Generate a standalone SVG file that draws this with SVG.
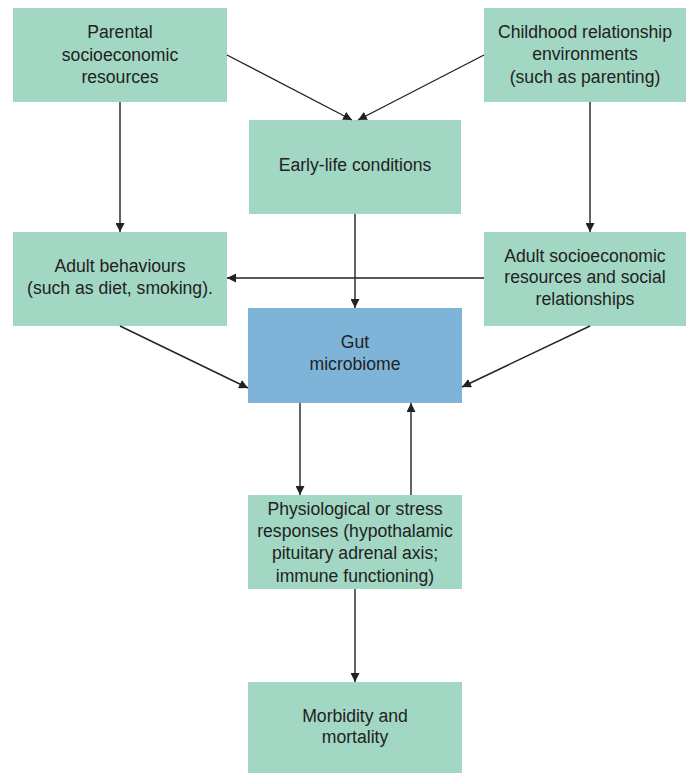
<svg xmlns="http://www.w3.org/2000/svg" width="687" height="773" viewBox="0 0 687 773">
<style>
.box{fill:#a1d7c3}
.blue{fill:#7eb4d8}
text{font-family:"Liberation Sans",Arial,sans-serif;font-size:17.6px;fill:#222;text-anchor:middle}
.c line{stroke:#222;stroke-width:1.4;marker-end:url(#ah)}
</style>
<defs>
<marker id="ah" viewBox="0 0 10 10" refX="10" refY="5" markerWidth="9" markerHeight="9" markerUnits="userSpaceOnUse" orient="auto">
<path d="M0,0 L10,5 L0,10 z" fill="#222"/>
</marker>
</defs>
<rect width="687" height="773" fill="#fff"/>
<g id="parental"><rect class="box" x="13" y="8" width="214" height="94"/>
<text x="120" y="38">Parental</text><text x="120" y="61">socioeconomic</text><text x="120" y="83">resources</text></g>
<g id="childhood"><rect class="box" x="484" y="8" width="202" height="94"/>
<text x="585" y="38">Childhood relationship</text><text x="585" y="60">environments</text><text x="585" y="83">(such as parenting)</text></g>
<g id="early"><rect class="box" x="249" y="120" width="212" height="94"/>
<text x="355" y="171">Early-life conditions</text></g>
<g id="adultbeh"><rect class="box" x="13" y="232" width="214" height="94"/>
<text x="120" y="272">Adult behaviours</text><text x="120" y="294">(such as diet, smoking).</text></g>
<g id="adultsoc"><rect class="box" x="484" y="232" width="202" height="94"/>
<text x="585" y="262">Adult socioeconomic</text><text x="585" y="283">resources and social</text><text x="585" y="305">relationships</text></g>
<g id="gut"><rect class="blue" x="248" y="308" width="214" height="95"/>
<text x="355" y="348">Gut</text><text x="355" y="370">microbiome</text></g>
<g id="physio"><rect class="box" x="248" y="495" width="214" height="94"/>
<text x="355" y="515">Physiological or stress</text><text x="355" y="537">responses (hypothalamic</text><text x="355" y="559">pituitary adrenal axis;</text><text x="355" y="582">immune functioning)</text></g>
<g id="morbidity"><rect class="box" x="248" y="682" width="214" height="91"/>
<text x="355" y="722">Morbidity and</text><text x="355" y="743">mortality</text></g>
<g class="c" id="connectors">
<line x1="227" y1="55" x2="352" y2="120"/>
<line x1="484" y1="55" x2="358" y2="120"/>
<line x1="120" y1="102" x2="120" y2="232"/>
<line x1="590" y1="102" x2="590" y2="232"/>
<line x1="355" y1="214" x2="355" y2="308"/>
<line x1="484" y1="278" x2="227" y2="278"/>
<line x1="120" y1="326" x2="248" y2="388"/>
<line x1="590" y1="326" x2="462" y2="387"/>
<line x1="300" y1="403" x2="300" y2="495"/>
<line x1="411" y1="495" x2="411" y2="403"/>
<line x1="355" y1="589" x2="355" y2="682"/>
</g>
</svg>
